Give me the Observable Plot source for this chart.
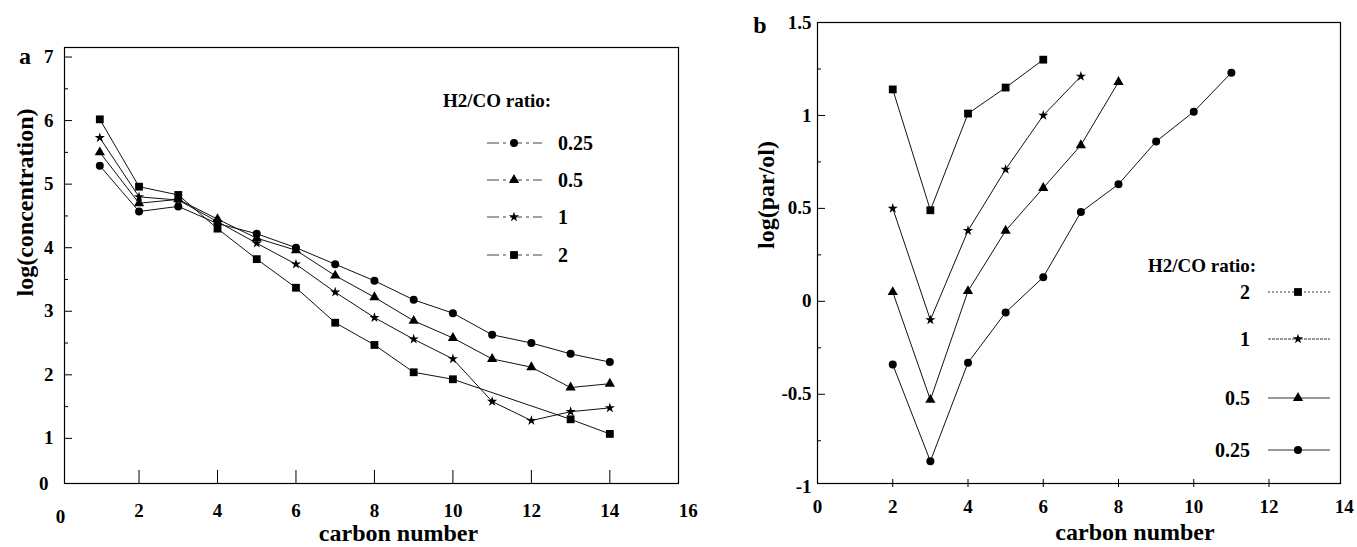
<!DOCTYPE html>
<html>
<head>
<meta charset="utf-8">
<script src="https://cdn.jsdelivr.net/npm/d3@7"></script>
<script src="https://cdn.jsdelivr.net/npm/@observablehq/plot@0.6"></script>
<style>
  html, body { margin: 0; padding: 0; background: #fff; }
  #wrap { position: relative; width: 1357px; height: 547px; overflow: hidden; }
  #wrap > .panel { position: absolute; top: 0; }
  #overlay { position: absolute; left: 0; top: 0; }
</style>
</head>
<body>
<div id="wrap">
  <div class="panel" id="pa" style="left:0px"></div>
  <div class="panel" id="pb" style="left:700px"></div>
</div>
<script>
// ---------- data ----------
const ratios = ["0.25", "0.5", "1", "2"];
const symbolsBySeries = { "0.25": "circle", "0.5": "triangle", "1": "star", "2": "square" };

// Panel a: log(concentration) vs carbon number
const carbonA = [1, 2, 3, 4, 5, 6, 7, 8, 9, 10, 11, 12, 13, 14];
const concR025 = [5.29, 4.57, 4.65, 4.38, 4.22, 4.00, 3.74, 3.48, 3.18, 2.97, 2.63, 2.50, 2.33, 2.20];
const concR05  = [5.50, 4.70, 4.76, 4.45, 4.15, 3.96, 3.56, 3.22, 2.85, 2.58, 2.25, 2.12, 1.80, 1.86];
const concR1   = [5.73, 4.80, 4.75, 4.41, 4.07, 3.74, 3.30, 2.90, 2.56, 2.25, 1.58, 1.28, 1.42, 1.48];
const concR2   = [6.02, 4.96, 4.83, 4.30, 3.82, 3.37, 2.82, 2.47, 2.04, 1.93, null, null, 1.30, 1.07];

// Panel b: log(par/ol) vs carbon number
const carbonB = [2, 3, 4, 5, 6, 7, 8, 9, 10, 11];
const parolR2   = [1.14, 0.49, 1.01, 1.15, 1.30];
const parolR1   = [0.50, -0.10, 0.38, 0.71, 1.00, 1.21];
const parolR05  = [0.05, -0.53, 0.055, 0.38, 0.61, 0.84, 1.18];
const parolR025 = [-0.34, -0.86, -0.33, -0.06, 0.13, 0.48, 0.63, 0.86, 1.02, 1.23];

// ticks
const xTickLabelsA = [2, 4, 6, 8, 10, 12, 14, 16];
const xTickLinesA = [2, 4, 6, 8, 10, 12, 14];
const yTicksA = [1, 2, 3, 4, 5, 6, 7];
const yMinorA = [1.5, 2.5, 3.5, 4.5, 5.5, 6.5];
const xTicksB = [0, 2, 4, 6, 8, 10, 12, 14];
const xTickLinesB = [2, 4, 6, 8, 10, 12];
const yTicksB = [-1, -0.5, 0, 0.5, 1, 1.5];
const yTickLinesB = [-0.5, 0, 0.5, 1];
const yMinorB = [-0.75, -0.25, 0.25, 0.75, 1.25];

// ---------- helpers ----------
const FONT = "'Liberation Serif', 'Times New Roman', serif";
const fmt = d => String(d);
function rows(xs, ys, s) {
  return xs.map((x, i) => ({ x, y: ys[i], s })).filter(d => d.y != null && d.y !== undefined);
}
const dataA = [
  ...rows(carbonA, concR025, "0.25"),
  ...rows(carbonA, concR05, "0.5"),
  ...rows(carbonA, concR1, "1"),
  ...rows(carbonA, concR2, "2")
];
const dataB = [
  ...rows(carbonB, parolR025, "0.25"),
  ...rows(carbonB, parolR05, "0.5"),
  ...rows(carbonB, parolR1, "1"),
  ...rows(carbonB, parolR2, "2")
];
const symR = { circle: 4, triangle: 3.8, star: 3.2, square: 4.4 };

function seriesMarks(data) {
  const marks = [Plot.line(data, { x: "x", y: "y", z: "s", stroke: "#111", strokeWidth: 1 })];
  for (const s of ratios) {
    const sym = symbolsBySeries[s];
    marks.push(Plot.dot(data.filter(d => d.s === s), { x: "x", y: "y", symbol: sym, r: symR[sym], fill: "#000", stroke: "none" }));
  }
  return marks;
}

const style = { fontFamily: FONT, fontWeight: "bold", fontSize: "19px", color: "#000", background: "transparent", overflow: "visible" };
const tickText = { tickSize: 0, label: null, fontSize: 19, fontWeight: "bold", tickFormat: fmt };
const titleText = { text: d => d, fontSize: 24, fontWeight: "bold", textAnchor: "middle", lineAnchor: "middle" };

// ---------- panel a ----------
const WA = 700, HA = 547;
const mA = { l: 64, r: 22, t: 47, b: 64 };
const innerWA = WA - mA.l - mA.r, innerHA = HA - mA.t - mA.b;
const plotA = Plot.plot({
  width: WA, height: HA,
  marginLeft: mA.l, marginRight: mA.r, marginTop: mA.t, marginBottom: mA.b,
  style,
  x: { domain: [0.1, 15.75], axis: null },
  y: { domain: [0.29, 7.15], axis: null },
  marks: [
    Plot.frame({ stroke: "#000", strokeWidth: 1.2 }),
    Plot.ruleX(xTickLinesA, { x: d => d, insetTop: innerHA - 13, stroke: "#000", strokeWidth: 1 }),
    Plot.ruleY(yTicksA, { y: d => d, insetRight: innerWA - 8, stroke: "#000", strokeWidth: 1 }),
    Plot.ruleY(yMinorA, { y: d => d, insetRight: innerWA - 4, stroke: "#000", strokeWidth: 1 }),
    Plot.axisX(xTickLabelsA, { ...tickText, tickPadding: 20 }),
    Plot.axisX([0], { ...tickText, tickPadding: 26 }),
    Plot.axisY(yTicksA, { ...tickText, tickPadding: 11 }),
    Plot.axisY([0.29], { ...tickText, tickPadding: 16, tickFormat: () => "0" }),
    ...seriesMarks(dataA),
    Plot.text(["carbon number"], { ...titleText, frameAnchor: "bottom", dx: 27, dy: 50 }),
    Plot.text(["log(concentration)"], { ...titleText, frameAnchor: "left", rotate: -90, dx: -39, dy: -63 })
  ]
});
document.getElementById("pa").append(plotA);

// ---------- panel b ----------
const WB = 657, HB = 547;
const mB = { l: 117, r: 17, t: 22, b: 64 };
const innerWB = WB - mB.l - mB.r, innerHB = HB - mB.t - mB.b;
const plotB = Plot.plot({
  width: WB, height: HB,
  marginLeft: mB.l, marginRight: mB.r, marginTop: mB.t, marginBottom: mB.b,
  style,
  x: { domain: [0, 13.9], axis: null },
  y: { domain: [-0.98, 1.5], axis: null },
  marks: [
    Plot.frame({ stroke: "#000", strokeWidth: 1.2 }),
    Plot.ruleX(xTickLinesB, { x: d => d, insetTop: innerHB - 4, insetBottom: -4, stroke: "#000", strokeWidth: 1 }),
    Plot.ruleY(yTickLinesB, { y: d => d, insetRight: innerWB - 8, stroke: "#000", strokeWidth: 1 }),
    Plot.ruleY(yMinorB, { y: d => d, insetRight: innerWB - 4, stroke: "#000", strokeWidth: 1 }),
    Plot.axisX(xTicksB, { ...tickText, tickPadding: 16 }),
    Plot.axisY(yTicksB, { ...tickText, tickPadding: 6 }),
    ...seriesMarks(dataB),
    Plot.text(["carbon number"], { ...titleText, frameAnchor: "bottom", dx: 56, dy: 49 }),
    Plot.text(["log(par/ol)"], { ...titleText, frameAnchor: "left", rotate: -90, dx: -51, dy: -58 })
  ]
});
document.getElementById("pb").append(plotB);

// ---------- overlay: panel letters and legends ----------
const svg = d3.select("#wrap").append("svg")
  .attr("id", "overlay").attr("width", 1357).attr("height", 547)
  .style("font-family", FONT).style("font-weight", "bold");

svg.append("text").attr("x", 25).attr("y", 56).attr("text-anchor", "middle")
  .attr("dominant-baseline", "central").attr("font-size", 24).text("a");
svg.append("text").attr("x", 760).attr("y", 25).attr("text-anchor", "middle")
  .attr("dominant-baseline", "central").attr("font-size", 24).text("b");

const symGen = name => d3.symbol(
  { circle: d3.symbolCircle, triangle: d3.symbolTriangle, star: d3.symbolStar, square: d3.symbolSquare }[name],
  Math.PI * symR[name] * symR[name]
)();

// legend a
const legA = { title: [443, 100], lineX: [487, 542], markX: 514, labelX: 558, ys: [143, 180, 217, 255], order: ["0.25", "0.5", "1", "2"] };
svg.append("text").attr("x", legA.title[0]).attr("y", legA.title[1]).attr("dominant-baseline", "central")
  .attr("font-size", 19).text("H2/CO ratio:");
legA.order.forEach((s, i) => {
  const y = legA.ys[i];
  svg.append("line").attr("x1", legA.lineX[0]).attr("x2", legA.lineX[1]).attr("y1", y).attr("y2", y)
    .attr("stroke", "#444").attr("stroke-width", 1).attr("stroke-dasharray", "12,4,3,4");
  svg.append("path").attr("d", symGen(symbolsBySeries[s])).attr("transform", `translate(${legA.markX},${y})`).attr("fill", "#000");
  svg.append("text").attr("x", legA.labelX).attr("y", y).attr("dominant-baseline", "central")
    .attr("font-size", 20).text(s);
});

// legend b
const legB = { title: [1148, 265], lineX: [1268, 1330], markX: 1298, labelX: 1250, ys: [292, 339, 398, 450], order: ["2", "1", "0.5", "0.25"],
  dash: { "2": "2,2", "1": "3,1", "0.5": null, "0.25": null } };
svg.append("text").attr("x", legB.title[0]).attr("y", legB.title[1]).attr("dominant-baseline", "central")
  .attr("font-size", 19).text("H2/CO ratio:");
legB.order.forEach((s, i) => {
  const y = legB.ys[i];
  svg.append("line").attr("x1", legB.lineX[0]).attr("x2", legB.lineX[1]).attr("y1", y).attr("y2", y)
    .attr("stroke", "#333").attr("stroke-width", 1).attr("stroke-dasharray", legB.dash[s]);
  svg.append("path").attr("d", symGen(symbolsBySeries[s])).attr("transform", `translate(${legB.markX},${y})`).attr("fill", "#000");
  svg.append("text").attr("x", legB.labelX).attr("y", y).attr("text-anchor", "end").attr("dominant-baseline", "central")
    .attr("font-size", 20).text(s);
});
</script>
</body>
</html>
